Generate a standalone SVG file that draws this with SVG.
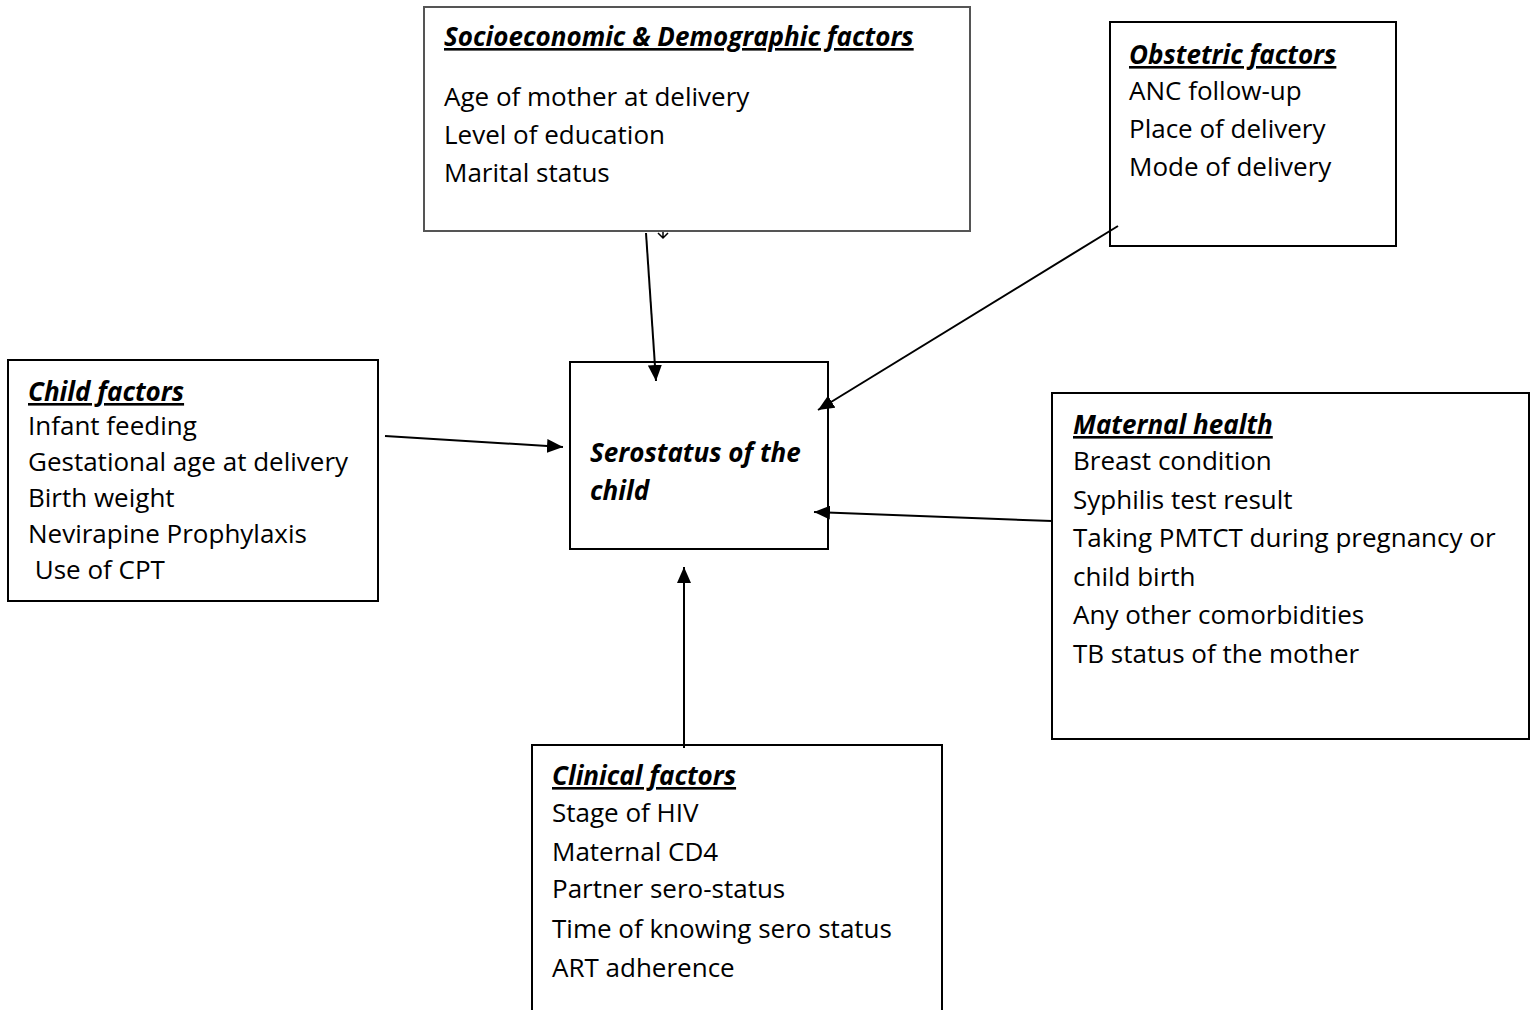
<svg xmlns="http://www.w3.org/2000/svg" width="1535" height="1010" viewBox="0 0 1535 1010">
<defs>
<marker id="ah" viewBox="0 0 16 14" refX="16" refY="7" markerWidth="16" markerHeight="14" markerUnits="userSpaceOnUse" orient="auto">
<path d="M0,0 L16,7 L0,14 z" fill="#000"/>
</marker>
<style>
.box{fill:#fff;stroke:#000;stroke-width:2}
.gbox{fill:#fff;stroke:#555;stroke-width:2}
text{font-family:"Open Sans","Liberation Sans",sans-serif;font-size:26px;fill:#000}
.t{font-weight:bold;font-style:italic;text-decoration:underline}
.c{font-weight:bold;font-style:italic}
.conn{stroke:#000;stroke-width:2;fill:none}
</style>
</defs>
<rect width="1535" height="1010" fill="#fff"/>
<g id="socio">
<rect class="gbox" x="424" y="7" width="546" height="224"/>
<text class="t" x="444" y="46">Socioeconomic &amp; Demographic factors</text>
<text x="444" y="106">Age of mother at delivery</text>
<text x="444" y="144">Level of education</text>
<text x="444" y="182">Marital status</text>
</g>
<g id="obstetric">
<rect class="box" x="1110" y="22" width="286" height="224"/>
<text class="t" x="1129" y="64">Obstetric factors</text>
<text x="1129" y="100">ANC follow-up</text>
<text x="1129" y="138">Place of delivery</text>
<text x="1129" y="176">Mode of delivery</text>
</g>
<g id="child">
<rect class="box" x="8" y="360" width="370" height="241"/>
<text class="t" x="28" y="401">Child factors</text>
<text x="28" y="435">Infant feeding</text>
<text x="28" y="471">Gestational age at delivery</text>
<text x="28" y="507">Birth weight</text>
<text x="28" y="543">Nevirapine Prophylaxis</text>
<text x="28" y="579" xml:space="preserve"> Use of CPT</text>
</g>
<g id="serostatus">
<rect class="box" x="570" y="362" width="258" height="187"/>
<text class="c" x="590" y="462">Serostatus of the</text>
<text class="c" x="590" y="500">child</text>
</g>
<g id="maternal">
<rect class="box" x="1052" y="393" width="477" height="346"/>
<text class="t" x="1073" y="434">Maternal health</text>
<text x="1073" y="470">Breast condition</text>
<text x="1073" y="509">Syphilis test result</text>
<text x="1073" y="547">Taking PMTCT during pregnancy or</text>
<text x="1073" y="586">child birth</text>
<text x="1073" y="624">Any other comorbidities</text>
<text x="1073" y="663">TB status of the mother</text>
</g>
<g id="clinical">
<rect class="box" x="532" y="745" width="410" height="280"/>
<text class="t" x="552" y="785">Clinical factors</text>
<text x="552" y="822">Stage of HIV</text>
<text x="552" y="861">Maternal CD4</text>
<text x="552" y="898">Partner sero-status</text>
<text x="552" y="938">Time of knowing sero status</text>
<text x="552" y="977">ART adherence</text>
</g>
<g id="connectors">
<line class="conn" x1="646" y1="233" x2="656" y2="381" marker-end="url(#ah)"/>
<line class="conn" x1="1118" y1="226" x2="818" y2="410" marker-end="url(#ah)"/>
<line class="conn" x1="385" y1="436" x2="563" y2="447" marker-end="url(#ah)"/>
<line class="conn" x1="1052" y1="521" x2="814" y2="512" marker-end="url(#ah)"/>
<line class="conn" x1="684" y1="748" x2="684" y2="567" marker-end="url(#ah)"/>
<path d="M663,232 L663,237 M658,233 L663,238 L668,233" fill="none" stroke="#000" stroke-width="1.5"/>
</g>
</svg>
